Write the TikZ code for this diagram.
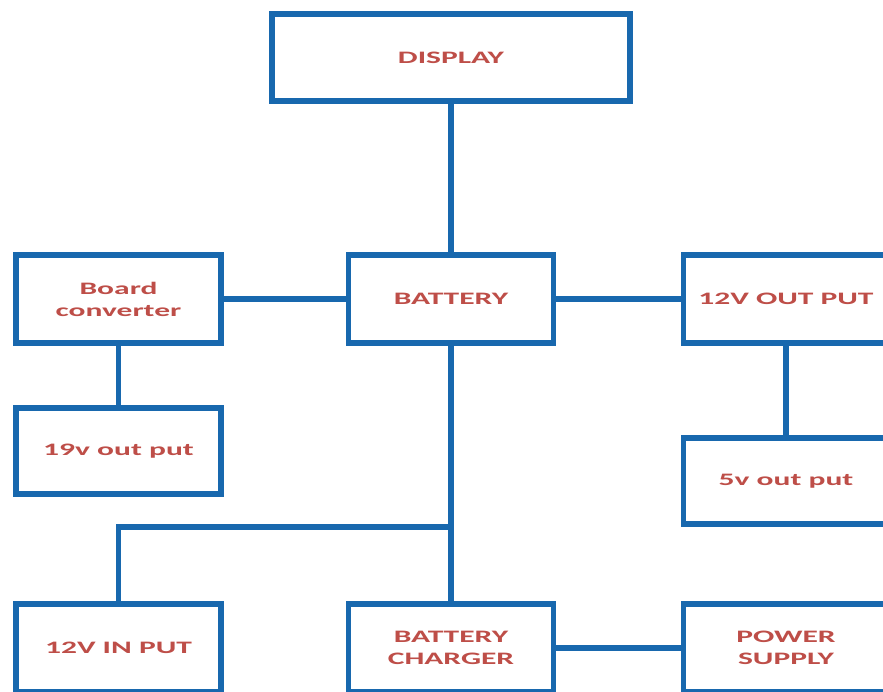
\documentclass[tikz,border=0pt]{standalone}
\usepackage{fontspec}
\newfontfamily\boxfont[FakeStretch=1.8]{Carlito}
\definecolor{lineblue}{RGB}{24,104,174}
\definecolor{textred}{RGB}{190,78,72}
\tikzset{
	blockbox/.style={draw=lineblue, line width=5.5pt, fill=white, minimum width=205pt, minimum height=88pt, align=center, text=textred, font=\boxfont\bfseries\fontsize{17.5}{22}\selectfont},
	wire/.style={draw=lineblue, line width=5.5pt}
}

\begin{document}
\begin{tikzpicture}[x=1pt, y=-1pt]
			%%%%% START %%%%%
			\useasboundingbox[fill=white] (0, 0) rectangle (883, 692);
			
			\node[blockbox, minimum width=358pt, minimum height=87pt] (disp) at (451, 57.5) {DISPLAY};
			
			\node[blockbox] (board) at (118.5, 299) {Board\\converter};
			\node[blockbox] (batt) at (451, 299) {BATTERY};
			\node[blockbox] (out12) at (786, 299) {12V OUT PUT};
			
			\node[blockbox, minimum height=86pt] (out19) at (118.5, 451) {19v out put};
			\node[blockbox, minimum height=86pt] (out5) at (786, 481) {5v out put};
			
			\node[blockbox] (in12) at (118.5, 648) {12V IN PUT};
			\node[blockbox] (charger) at (451, 648) {BATTERY\\CHARGER};
			\node[blockbox] (supply) at (786, 648) {POWER\\SUPPLY};
			
			\coordinate (junc) at (451, 527);
			
			\draw[wire] (disp) -- (batt);
			\draw[wire] (board) -- (batt);
			\draw[wire] (batt) -- (out12);
			\draw[wire] (board) -- (out19);
			\draw[wire] (out12) -- (out5);
			\draw[wire] (batt) -- (charger);
			\draw[wire] (junc) -| (in12);
			\draw[wire] (charger) -- (supply);
			
			%%%%% END %%%%%
\end{tikzpicture}
\end{document}
